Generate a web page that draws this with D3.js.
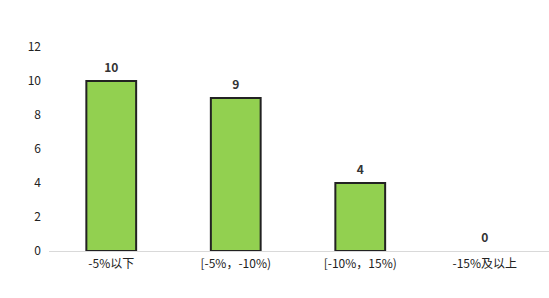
<!DOCTYPE html>
<html>
<head>
<meta charset="utf-8">
<script src="https://cdn.jsdelivr.net/npm/d3@7"></script>
<style>
  body { margin: 0; background: #fff; }
  svg text { font-family: "Noto Sans CJK SC", "Noto Sans", sans-serif; }
</style>
</head>
<body>
<svg id="chart" width="549" height="298"></svg>
<script>
const categories = ['-5%以下', '[-5%，-10%)', '[-10%，15%)', '-15%及以上']
const values = [10, 9, 4, 0]
const yTicks = [0, 2, 4, 6, 8, 10, 12]

const width = 549
const height = 298
const margin = { top: 47, right: 2, bottom: 47, left: 49 }

const svg = d3.select('#chart')

const x = d3.scaleBand()
  .domain(categories)
  .range([margin.left, width - margin.right])
  .paddingInner(0.6)
  .paddingOuter(0.3)

const y = d3.scaleLinear()
  .domain([0, 12])
  .range([height - margin.bottom, margin.top])

// y axis labels, no line
const yAxis = svg.append('g')
  .attr('transform', `translate(${margin.left - 8},0)`)
  .call(d3.axisLeft(y).tickValues(yTicks).tickSize(0).tickPadding(0))
yAxis.select('.domain').remove()
yAxis.selectAll('text')
  .attr('font-size', 12)
  .attr('fill', '#222')

// bars
svg.append('g')
  .selectAll('rect')
  .data(values)
  .join('rect')
    .attr('x', (d, i) => x(categories[i]))
    .attr('y', d => y(d))
    .attr('width', x.bandwidth())
    .attr('height', d => y(0) - y(d))
    .attr('fill', '#92D050')
    .attr('stroke', d => d > 0 ? '#222' : 'none')
    .attr('stroke-width', 2)

// x axis
const xAxis = svg.append('g')
  .attr('transform', `translate(0,${y(0) + 0.5})`)
  .call(d3.axisBottom(x).tickSize(0).tickPadding(8))
xAxis.select('.domain')
  .attr('stroke', '#d9d9d9')
  .attr('d', `M${margin.left},0H${width}`)
xAxis.selectAll('text')
  .attr('font-size', 12)
  .attr('fill', '#222')

// value labels
svg.append('g')
  .selectAll('text')
  .data(values)
  .join('text')
    .attr('x', (d, i) => x(categories[i]) + x.bandwidth() / 2)
    .attr('y', d => y(d) - 9)
    .attr('text-anchor', 'middle')
    .attr('font-size', 12)
    .attr('font-weight', 'bold')
    .attr('fill', '#333')
    .text(d => d)
</script>
</body>
</html>
